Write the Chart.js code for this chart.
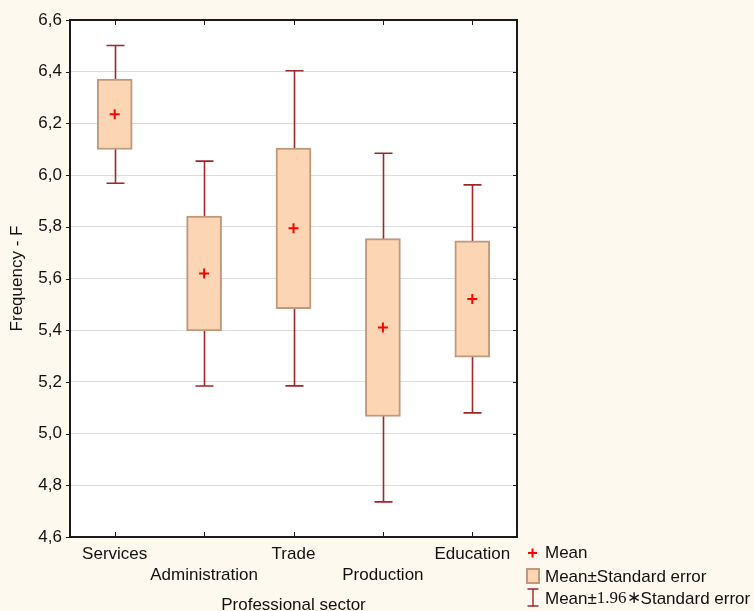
<!DOCTYPE html>
<html>
<head>
<meta charset="utf-8">
<title>Frequency by professional sector</title>
<script src="https://cdn.jsdelivr.net/npm/chart.js@4.4.0/dist/chart.umd.min.js"></script>
<style>
  html, body { margin: 0; padding: 0; background: #fdf9ef; }
  canvas { display: block; }
</style>
</head>
<body>
<canvas id="chart" width="754" height="611"></canvas>
<script>
// group means and standard errors per sector
const sectors = ['Services', 'Administration', 'Trade', 'Production', 'Education'];
const means = [6.235, 5.619, 5.794, 5.410, 5.521];
const stdErr = [0.136, 0.222, 0.311, 0.344, 0.225];
const Z = 1.96;

const FONT = "'Liberation Sans', Arial, sans-serif";
const FS = 17;
const BOX_FILL = '#fbd5b4';
const BOX_EDGE = '#c0997a';
const WHISKER = '#a0262a';
const MEAN_COL = '#ff0000';

// white plot area, whiskers, frame, tick marks, x title and legend
const decorations = {
  id: 'decorations',
  beforeDraw(chart) {
    const { ctx, chartArea: a } = chart;
    ctx.save();
    ctx.fillStyle = '#ffffff';
    ctx.fillRect(a.left, a.top, a.right - a.left, a.bottom - a.top);
    ctx.restore();
  },
  beforeDatasetsDraw(chart) {
    const { ctx, scales: { x, y } } = chart;
    ctx.save();
    ctx.strokeStyle = WHISKER;
    ctx.lineWidth = 1.6;
    means.forEach((m, i) => {
      const px = Math.round(x.getPixelForValue(i)) + 0.5;
      const hi = y.getPixelForValue(m + Z * stdErr[i]);
      const lo = y.getPixelForValue(m - Z * stdErr[i]);
      ctx.beginPath();
      ctx.moveTo(px, hi); ctx.lineTo(px, lo);
      ctx.moveTo(px - 9, hi); ctx.lineTo(px + 9, hi);
      ctx.moveTo(px - 9, lo); ctx.lineTo(px + 9, lo);
      ctx.stroke();
    });
    ctx.restore();
  },
  afterDraw(chart) {
    const { ctx, chartArea: a, scales: { x, y } } = chart;
    ctx.save();
    // frame
    ctx.strokeStyle = '#1a1a1a';
    ctx.lineWidth = 2;
    ctx.strokeRect(a.left, a.top, a.right - a.left, a.bottom - a.top);

    // ticks: outward on the left, inward elsewhere
    ctx.lineWidth = 1;
    ctx.beginPath();
    y.ticks.forEach(t => {
      const py = Math.round(y.getPixelForValue(t.value)) + 0.5;
      ctx.moveTo(a.left, py); ctx.lineTo(a.left - 4, py);
      ctx.moveTo(a.right, py); ctx.lineTo(a.right - 4, py);
    });
    sectors.forEach((s, i) => {
      const px = Math.round(x.getPixelForValue(i)) + 0.5;
      ctx.moveTo(px, a.top); ctx.lineTo(px, a.top + 5);
      ctx.moveTo(px, a.bottom); ctx.lineTo(px, a.bottom - 5);
    });
    ctx.stroke();

    // x axis title
    ctx.fillStyle = '#111';
    ctx.font = FS + 'px ' + FONT;
    ctx.textAlign = 'center';
    ctx.textBaseline = 'alphabetic';
    ctx.fillText('Professional sector', (a.left + a.right) / 2, 610);

    // legend
    ctx.textAlign = 'left';
    ctx.textBaseline = 'middle';
    ctx.strokeStyle = MEAN_COL;
    ctx.lineWidth = 2;
    ctx.beginPath();
    ctx.moveTo(528, 553); ctx.lineTo(537, 553);
    ctx.moveTo(532.5, 548.5); ctx.lineTo(532.5, 557.5);
    ctx.stroke();
    ctx.fillText('Mean', 545, 553);

    ctx.fillStyle = BOX_FILL;
    ctx.fillRect(527, 569, 12, 14);
    ctx.strokeStyle = BOX_EDGE;
    ctx.strokeRect(527, 569, 12, 14);
    ctx.fillStyle = '#111';
    ctx.fillText('Mean\u00B1Standard error', 545, 577);

    ctx.strokeStyle = WHISKER;
    ctx.lineWidth = 1.4;
    ctx.beginPath();
    ctx.moveTo(533, 589); ctx.lineTo(533, 606);
    ctx.moveTo(527.5, 589); ctx.lineTo(538.5, 589);
    ctx.moveTo(527.5, 606); ctx.lineTo(538.5, 606);
    ctx.stroke();

    let tx = 545;
    const parts = [
      ['Mean\u00B1', FS + 'px ' + FONT],
      ['1.96\u2217', FS + 'px "Liberation Serif", "Times New Roman", serif'],
      ['Standard error', FS + 'px ' + FONT]
    ];
    parts.forEach(([txt, f]) => {
      ctx.font = f;
      ctx.fillText(txt, tx, 599);
      tx += ctx.measureText(txt).width;
    });
    ctx.restore();
  }
};

new Chart(document.getElementById('chart'), {
  data: {
    labels: sectors,
    datasets: [
      {
        type: 'line',
        label: 'Mean',
        data: means,
        showLine: false,
        pointStyle: 'cross',
        pointRadius: 5,
        pointBorderWidth: 2,
        pointBorderColor: MEAN_COL,
        order: 0
      },
      {
        type: 'bar',
        label: 'Mean\u00B1Standard error',
        data: means.map((m, i) => [m - stdErr[i], m + stdErr[i]]),
        backgroundColor: BOX_FILL,
        borderColor: BOX_EDGE,
        borderWidth: 2,
        borderSkipped: false,
        barThickness: 35,
        order: 1
      }
    ]
  },
  options: {
    responsive: false,
    animation: false,
    layout: { padding: { left: 0, top: 20, right: 237, bottom: 0 } },
    plugins: {
      legend: { display: false },
      tooltip: { enabled: false }
    },
    scales: {
      x: {
        type: 'category',
        offset: true,
        afterFit: s => { s.height = 74; },
        grid: { display: false, drawTicks: false },
        border: { display: false },
        ticks: {
          padding: 7,
          color: '#111',
          maxRotation: 0,
          autoSkip: false,
          font: { family: FONT, size: FS, lineHeight: 21 / FS },
          callback: (v, i) => (i % 2 ? ['', sectors[i]] : sectors[i])
        }
      },
      y: {
        min: 4.6,
        max: 6.6,
        afterFit: s => { s.width = 70; },
        grid: { color: '#dcdcdc', lineWidth: 1, drawTicks: false },
        border: { display: false },
        ticks: {
          stepSize: 0.2,
          padding: 8,
          color: '#111',
          font: { family: FONT, size: FS },
          callback: v => v.toFixed(1).replace('.', ',')
        },
        title: {
          display: true,
          text: 'Frequency - F',
          color: '#111',
          padding: { top: 7, bottom: 0 },
          font: { family: FONT, size: FS }
        }
      }
    }
  },
  plugins: [decorations]
});
</script>
</body>
</html>
